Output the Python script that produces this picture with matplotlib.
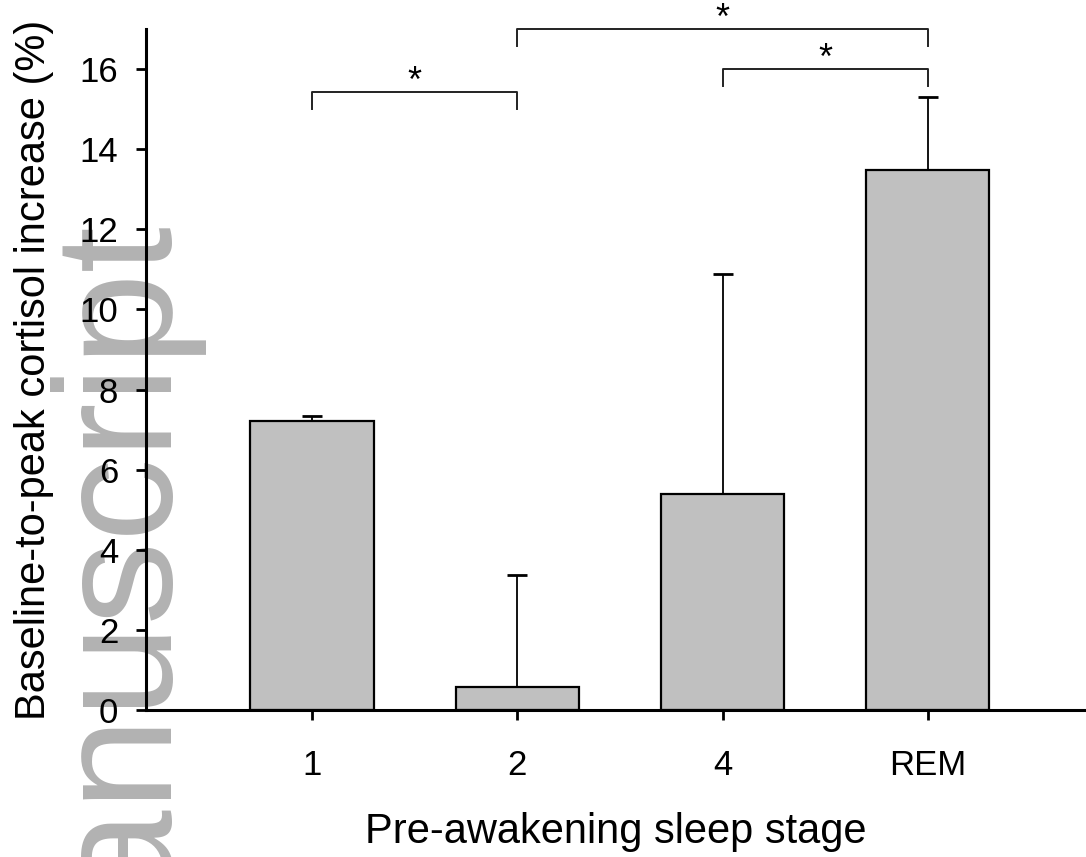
import matplotlib
matplotlib.use("Agg")
import matplotlib.pyplot as plt
import numpy as np

plt.rcParams['font.family'] = ['Liberation Sans', 'DejaVu Sans']

# Data
categories = ['1', '2', '4', 'REM']
means = [7.22, 0.58, 5.38, 13.47]
errors = [0.13, 2.78, 5.50, 1.83]
yticks = [0, 2, 4, 6, 8, 10, 12, 14, 16]
comparisons = [(0, 1), (1, 3), (2, 3)]
comparison_labels = ['*', '*', '*']

W, H = 1086, 857
fig = plt.figure(figsize=(W / 100, H / 100), dpi=100)
fig.patch.set_facecolor('white')

# Watermark behind axes
fig.text(161 / W, 1 - 214 / H, 'manuscript', rotation=90, rotation_mode='anchor',
         ha='right', va='baseline', fontsize=120, color='#b2b2b2', zorder=-5)

ax = fig.add_axes([146 / W, 1 - 710 / H, 1 - 146 / W, (710 - 29) / H])
ax.patch.set_alpha(0)

x = np.arange(len(categories))
ax.bar(x, means, width=0.6, color='#c0c0c0', edgecolor='black', linewidth=1.6, zorder=2)
ax.errorbar(x, means, yerr=[np.zeros(len(errors)), errors], fmt='none', ecolor='black',
            elinewidth=1.3, capsize=7, capthick=2, zorder=1)

ax.set_xlim(-0.808, 3.77)
ax.set_ylim(0, 17.0)
ax.set_xticks(x)
ax.set_xticklabels(categories)
ax.set_yticks(yticks)

for s in ['top', 'right']:
    ax.spines[s].set_visible(False)
for s in ['left', 'bottom']:
    ax.spines[s].set_linewidth(2.2)
    ax.spines[s].set_zorder(3)

ax.tick_params(axis='y', direction='out', length=7, width=2, labelsize=25, pad=13)
ax.tick_params(axis='x', direction='out', length=7, width=2, labelsize=25, pad=21)

ax.set_ylabel('Baseline-to-peak cortisol increase (%)', fontsize=30, labelpad=18)
ax.set_xlabel('Pre-awakening sleep stage', fontsize=30, labelpad=22)

# Significance brackets
bracket_levels = [15.43, 17.0, 16.0]
drop = 0.42
for (a, b), lvl, lab in zip(comparisons, bracket_levels, comparison_labels):
    ax.plot([x[a], x[a], x[b], x[b]], [lvl - drop, lvl, lvl, lvl - drop],
            color='#222222', linewidth=1.4, clip_on=False, zorder=4)
    ax.text((x[a] + x[b]) / 2, lvl, lab, ha='center', va='baseline', fontsize=26,
            clip_on=False)

fig.savefig('out.png', dpi=100, facecolor='white')
